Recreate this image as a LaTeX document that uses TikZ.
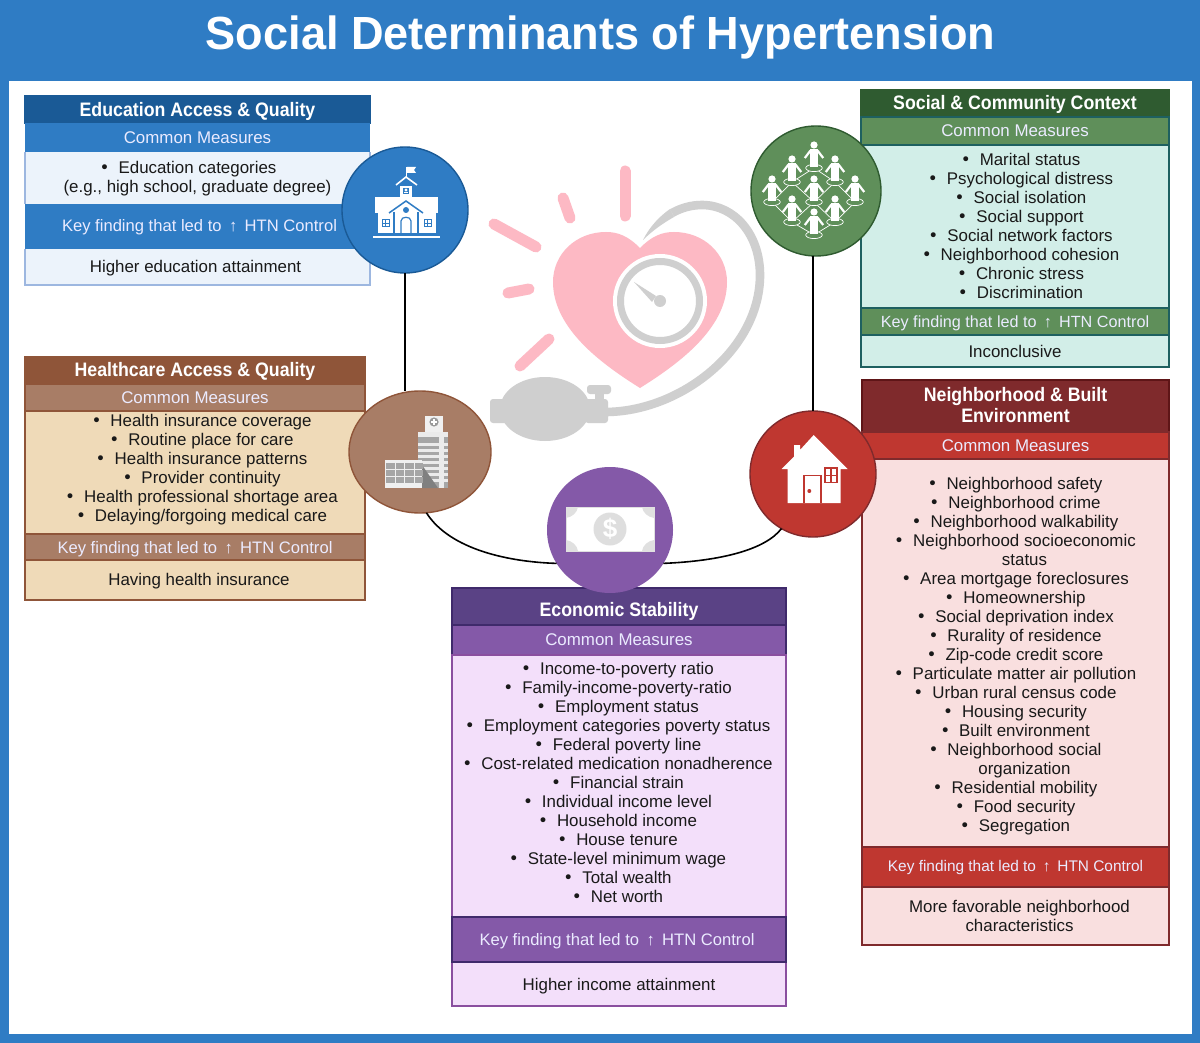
\documentclass[tikz,border=0pt]{standalone}
\usepackage{fontspec}
\setmainfont{Liberation Sans}
\newfontfamily\headfont[FakeStretch=0.91]{Liberation Sans}
\newfontfamily\titlefont[FakeStretch=0.97]{Liberation Sans}
\newfontfamily\bulletfont{DejaVu Sans}
\usetikzlibrary{positioning, shapes.geometric}

\definecolor{frameblue}{HTML}{2F7CC4}
\definecolor{eduDark}{HTML}{1A5A96}
\definecolor{eduLight}{HTML}{ECF3FB}
\definecolor{eduEdge}{HTML}{9DB7E0}
\definecolor{healthDark}{HTML}{8F5539}
\definecolor{healthMid}{HTML}{A87D66}
\definecolor{healthLight}{HTML}{EFDAB8}
\definecolor{socialDark}{HTML}{2F5B30}
\definecolor{socialMid}{HTML}{5F8F5A}
\definecolor{socialLight}{HTML}{D2EEE8}
\definecolor{socialEdge}{HTML}{1E6060}
\definecolor{neighDark}{HTML}{7F2A2C}
\definecolor{neighEdge}{HTML}{5E1517}
\definecolor{neighMid}{HTML}{BF3730}
\definecolor{neighLight}{HTML}{F9DFDF}
\definecolor{econDark}{HTML}{5A4285}
\definecolor{econEdge}{HTML}{3F2A6B}
\definecolor{econMid}{HTML}{8459A8}
\definecolor{econLine}{HTML}{8A4F9F}
\definecolor{econLight}{HTML}{F3DFFA}
\definecolor{heartpink}{HTML}{FDB9C4}
\definecolor{cuffgrey}{HTML}{CFCFCF}

\newcommand{\lineitem}[1]{\leavevmode\llap{{\bulletfont •}\hspace{9pt}}#1}
\newcommand{\nudge}[2]{\raisebox{-#1pt}[\height][\depth]{#2}}
\newcommand{\keyfinding}{Key finding that led to \,↑\, HTN Control}

\tikzset{
  person/.pic={
    \draw[white, fill=socialMid, line width=0.7pt] (0,0) ellipse (8.3 and 3.6);
    \fill[white] (0,-23) circle (3.6);
    \fill[white] (-4.2,-18.5) rectangle (4.2,-8);
    \fill[white] (-3.8,-8) rectangle (-0.4,-0.5);
    \fill[white] (0.4,-8) rectangle (3.8,-0.5);
    \draw[white, line width=2.2pt] (-3.5,-17.5) -- (-9.2,-10);
    \draw[white, line width=2.2pt] (3.5,-17.5) -- (9.2,-10);
  }
}

\begin{document}
\begin{tikzpicture}[x=1pt, y=-1pt,
    rowbox/.style n args={3}{rectangle, inner sep=0pt, outer sep=0pt, line width=1.3pt, fill=#1, draw=#2, minimum height=#3, align=center},
    plainrow/.style n args={2}{rectangle, inner sep=0pt, outer sep=0pt, fill=#1, minimum height=#2, align=center},
    headtext/.style={text=white, font=\fontsize{19.5}{21}\headfont\bfseries},
    subtext/.style={text=white!92!blue, font=\fontsize{16.9}{19}\selectfont},
    keytext/.style={text=white!92!blue, font=\fontsize{#1}{19}\selectfont},
    bodytext/.style={text=black!90, font=\fontsize{16.9}{19}\selectfont},
    listnode/.style={inner sep=0pt, align=center, text=black!90, font=\fontsize{16.9}{19}\selectfont},
    iconnode/.style={circle, inner sep=0pt, outer sep=0pt, line width=1.4pt},
    link/.style={black, line width=1.6pt}]
  \useasboundingbox (0,0) rectangle (1200,1043);
  \fill[frameblue] (0,0) rectangle (1200,1043);
  \fill[white] (9,81) rectangle (1192,1034);
  \node[text=white, font=\fontsize{46.5}{50}\titlefont\bfseries] (title) at (600.5,37) {Social Determinants of Hypertension};

  % education
  \begin{scope}[minimum width=345pt]
    \node[rowbox={eduDark}{eduDark}{27pt}, headtext, anchor=north west] (eduHead) at (25,96) {\nudge{2}{Education Access \& Quality}};
    \node[plainrow={frameblue}{29pt}, subtext] (eduSub) [below=0pt of eduHead] {Common Measures};
    \node[plainrow={eduLight}{52pt}] (eduBody) [below=0pt of eduSub] {};
    \node[plainrow={frameblue}{45pt}, keytext=16.6] (eduKey) [below=0pt of eduBody] {\nudge{1}{\hspace{4pt}\keyfinding}};
    \node[plainrow={eduLight}{36pt}, bodytext] (eduResult) [below=0pt of eduKey] {\nudge{1}{Higher education attainment\hspace{4pt}}};
  \end{scope}
  \draw[eduEdge, line width=1.3pt] (eduBody.north west) -- (eduBody.south west) (eduResult.north west) -- (eduResult.south west) -- (eduResult.south east) -- (eduResult.north east) (eduBody.south east) -- (eduBody.north east);
  \node[listnode] (eduList) at ([yshift=-1pt]eduBody.center) {\lineitem{Education categories}\\(e.g., high school, graduate degree)};

  % healthcare
  \begin{scope}[minimum width=340pt]
    \node[rowbox={healthDark}{healthDark}{27pt}, headtext, anchor=north west] (healthHead) at (25,357) {\nudge{1}{Healthcare Access \& Quality}};
    \node[rowbox={healthMid}{healthDark}{27pt}, subtext] (healthSub) [below=0pt of healthHead] {Common Measures};
    \node[rowbox={healthLight}{healthDark}{123pt}] (healthBody) [below=0pt of healthSub] {};
    \node[rowbox={healthMid}{healthDark}{26pt}, keytext=16.6] (healthKey) [below=0pt of healthBody] {\nudge{2}{\keyfinding}};
    \node[rowbox={healthLight}{healthDark}{40pt}, bodytext] (healthResult) [below=0pt of healthKey] {\nudge{1}{\hspace{8pt}Having health insurance}};
  \end{scope}
  \node[listnode] (healthList) at ([xshift=16pt, yshift=3pt]healthBody.center) {\lineitem{Health insurance coverage}\\\lineitem{Routine place for care}\\\lineitem{Health insurance patterns}\\\lineitem{Provider continuity}\\\lineitem{Health professional shortage area}\\\lineitem{Delaying/forgoing medical care}};

  % social and community
  \begin{scope}[minimum width=308pt]
    \node[rowbox={socialDark}{socialDark}{27pt}, headtext, anchor=north west] (socialHead) at (861,90) {\nudge{1}{Social \& Community Context}};
    \node[rowbox={socialMid}{socialEdge}{28pt}, subtext] (socialSub) [below=0pt of socialHead] {Common Measures};
    \node[rowbox={socialLight}{socialEdge}{163pt}] (socialBody) [below=0pt of socialSub] {};
    \node[rowbox={socialMid}{socialEdge}{27pt}, keytext=16.2] (socialKey) [below=0pt of socialBody] {\nudge{2}{\keyfinding}};
    \node[rowbox={socialLight}{socialEdge}{32pt}, bodytext] (socialResult) [below=0pt of socialKey] {Inconclusive};
  \end{scope}
  \node[listnode] (socialList) at ([xshift=15pt, yshift=1pt]socialBody.center) {\lineitem{Marital status}\\\lineitem{Psychological distress}\\\lineitem{Social isolation}\\\lineitem{Social support}\\\lineitem{Social network factors}\\\lineitem{Neighborhood cohesion}\\\lineitem{Chronic stress}\\\lineitem{Discrimination}};

  % neighborhood
  \begin{scope}[minimum width=307pt]
    \node[rowbox={neighDark}{neighEdge}{52pt}, headtext, anchor=north west] (neighHead) at (862,380) {Neighborhood \& Built\\Environment\rule[-2pt]{0pt}{1pt}};
    \node[rowbox={neighMid}{neighDark}{27pt}, subtext] (neighSub) [below=0pt of neighHead] {Common Measures};
    \node[rowbox={neighLight}{neighDark}{388pt}] (neighBody) [below=0pt of neighSub] {};
    \node[rowbox={neighMid}{neighDark}{40pt}, keytext=15.4] (neighKey) [below=0pt of neighBody] {\nudge{1}{\keyfinding}};
    \node[rowbox={neighLight}{neighDark}{58pt}, bodytext] (neighResult) [below=0pt of neighKey] {\hspace{8pt}More favorable neighborhood\\\hspace{8pt}characteristics};
  \end{scope}
  \node[listnode] (neighList) at ([xshift=9pt, yshift=-3pt]neighBody.center) {\lineitem{Neighborhood safety}\\\lineitem{Neighborhood crime}\\\lineitem{Neighborhood walkability}\\\lineitem{Neighborhood socioeconomic}\\status\\\lineitem{Area mortgage foreclosures}\\\lineitem{Homeownership}\\\lineitem{Social deprivation index}\\\lineitem{Rurality of residence}\\\lineitem{Zip-code credit score}\\\lineitem{Particulate matter air pollution}\\\lineitem{Urban rural census code}\\\lineitem{Housing security}\\\lineitem{Built environment}\\\lineitem{Neighborhood social}\\organization\\\lineitem{Residential mobility}\\\lineitem{Food security}\\\lineitem{Segregation}};

  % economic stability
  \begin{scope}[minimum width=334pt]
    \node[rowbox={econDark}{econEdge}{37pt}, headtext, anchor=north west] (econHead) at (452,588) {\nudge{5}{Economic Stability}};
    \node[rowbox={econMid}{econEdge}{30pt}, subtext] (econSub) [below=0pt of econHead] {Common Measures};
    \node[rowbox={econLight}{econLine}{262pt}] (econBody) [below=0pt of econSub] {};
    \node[rowbox={econLight}{econLine}{44pt}, bodytext, anchor=north] (econResult) at ([yshift=-45pt]econBody.south) {\nudge{2}{Higher income attainment}};
    \node[rowbox={econMid}{econEdge}{45pt}, keytext=16.6] (econKey) [below=0pt of econBody] {\nudge{2}{\hspace{-4pt}\keyfinding}};
  \end{scope}
  \node[listnode] (econList) at ([xshift=8pt, yshift=3.5pt]econBody.center) {\lineitem{Income-to-poverty ratio}\\\lineitem{Family-income-poverty-ratio}\\\lineitem{Employment status}\\\lineitem{Employment categories poverty status}\\\lineitem{Federal poverty line}\\\lineitem{Cost-related medication nonadherence}\\\lineitem{Financial strain}\\\lineitem{Individual income level}\\\lineitem{Household income}\\\lineitem{House tenure}\\\lineitem{State-level minimum wage}\\\lineitem{Total wealth}\\\lineitem{Net worth}};

  % circles
  \node[iconnode, fill=frameblue, draw=eduDark, minimum size=126pt] (eduIcon) at (405,210) {};
  \node[ellipse, inner sep=0pt, outer sep=0pt, line width=1.4pt, fill=healthMid, draw=healthDark, minimum width=142pt, minimum height=122pt] (healthIcon) at (420,452) {};
  \node[iconnode, fill=socialMid, draw=socialDark, minimum size=130pt] (socialIcon) at (816,191) {};
  \node[iconnode, fill=neighMid, draw=neighDark, minimum size=126pt] (neighIcon) at (813,474) {};
  \node[iconnode, fill=econMid, minimum size=126pt] (econIcon) at (610,530) {};

  \draw[link] (eduIcon.south) -- (eduIcon.south |- healthIcon.north);
  \draw[link] (neighIcon.north |- socialIcon.south) -- (neighIcon.north);
  \draw[link] (healthIcon.-84) .. controls (450,550) and (510,562) .. (econIcon.-148);
  \draw[link] (econIcon.-32) .. controls (720,561) and (765,550) .. (neighIcon.-120);

  % heart and cuff
  \fill[heartpink] (640,248) .. controls (628,236) and (618,232) .. (606,232) .. controls (576,232) and (553,254) .. (553,282) .. controls (553,330) and (605,366) .. (640,388) .. controls (675,366) and (727,330) .. (727,282) .. controls (727,254) and (704,232) .. (674,232) .. controls (662,232) and (652,236) .. (640,248);
  \foreach \ax/\ay/\bx/\by in {625/171/625/216, 563/198/570/218, 494/224/536/247, 508/293/529/289, 520/366/549/339}
    \draw[heartpink, line width=11pt, line cap=round] (\ax,\ay) -- (\bx,\by);
  \draw[cuffgrey, line width=8.6pt] (605,412) .. controls (680,412) and (760,350) .. (760,275) .. controls (760,235) and (735,205) .. (702,205) .. controls (691,205) and (681,208) .. (672,213);
  \fill[cuffgrey] (643,240) .. controls (650,226) and (660,216) .. (670,209) -- (674,217) .. controls (665,222) and (653,230) .. (643,240) -- cycle;
  \fill[white] (660,301) circle (47);
  \draw[cuffgrey, line width=7pt] (660,301) circle (39.5);
  \fill[cuffgrey] (634,282) -- (656,296) -- (652,302) -- cycle;
  \fill[cuffgrey] (660,301) circle (6);
  \fill[cuffgrey] (545,409) ellipse (45 and 32);
  \fill[cuffgrey, rounded corners=3pt] (490,399) rectangle (512,423);
  \fill[cuffgrey, rounded corners=3pt] (585,399) rectangle (608,423);
  \fill[cuffgrey] (595,392) rectangle (604,400);
  \fill[cuffgrey, rounded corners=3pt] (587,385) rectangle (611,394);

  % school
  \fill[white] (406,167) rectangle (407,178);
  \fill[white] (407,167) -- (416,167) -- (414,170) -- (416,173) -- (407,173) -- cycle;
  \draw[white, line width=1.6pt] (396,185) -- (406,177) -- (417,185);
  \fill[white] (400,186) rectangle (412,197);
  \fill[frameblue] (403,188) rectangle (409,194);
  \fill[white] (406,190) circle (1.6);
  \fill[white] (403.8,192) rectangle (408.2,193);
  \fill[white] (375,197) rectangle (438,213);
  \fill[white] (378,213) rectangle (436,233);
  \fill[white] (373,236) rectangle (440,238);
  \draw[frameblue, line width=1.5pt] (389,213) -- (406,201) -- (423,213);
  \draw[frameblue, line width=1.5pt] (394,212) -- (394,233);
  \draw[frameblue, line width=1.5pt] (418,212) -- (418,233);
  \fill[frameblue] (406,210) circle (3);
  \draw[frameblue, line width=1.2pt] (401,233) -- (401,221) .. controls (401,216) and (411,216) .. (411,221) -- (411,233);
  \foreach \wx in {382,424} {
    \draw[frameblue, line width=1pt] (\wx,220) rectangle ++(7,7);
    \draw[frameblue, line width=0.7pt] (\wx+3.5,220) -- (\wx+3.5,227) (\wx,223.5) -- (\wx+7,223.5);
  }

  % people network
  \foreach \pname/\px/\py in {a/814/168, b/792/182, c/835/182, d/772/202, e/814/202, f/855/202, g/792/222, h/835/222, i/814/235}
    \coordinate (p\pname) at (\px,\py);
  \foreach \from/\to in {a/b, a/c, b/d, b/e, c/e, c/f, d/g, e/g, e/h, f/h, g/i, h/i}
    \draw[white, line width=0.7pt] (p\from) -- (p\to);
  \foreach \pname in {a,b,c,d,e,f,g,h,i}
    \pic at (p\pname) {person};

  % hospital
  \fill[white!94!black] (425,416) rectangle (443,432);
  \fill[black!40] (434,422) circle (4.6);
  \draw[white, line width=1.2pt] (431,422) -- (437,422) (434,419) -- (434,425);
  \fill[white!92!black] (418,432) rectangle (448,437);
  \fill[black!35] (418,437) rectangle (448,488);
  \foreach \ly in {443,449,455,461,467,473,479}
    \fill[white!92!black] (418,\ly) rectangle (448,\ly+3);
  \fill[white!92!black] (439,437) rectangle (444,488);
  \fill[black!50] (422,488) -- (422,465) -- (438,488) -- cycle;
  \fill[white!94!black] (385,460) rectangle (422,488);
  \foreach \cx in {386,395.5,405,414.5}
    \foreach \cy in {462.5,469.5,476.5}
      \fill[black!35] (\cx,\cy) rectangle +(8.5,6);

  % money
  \fill[white, draw=black!12, line width=1pt] (566,507) rectangle (654,551);
  \fill[black!12] (566,507) -- (578,507) .. controls (577,513) and (572,517) .. (566,518) -- cycle;
  \fill[black!12] (654,507) -- (642,507) .. controls (643,513) and (648,517) .. (654,518) -- cycle;
  \fill[black!12] (566,551) -- (578,551) .. controls (577,545) and (572,541) .. (566,540) -- cycle;
  \fill[black!12] (654,551) -- (642,551) .. controls (643,545) and (648,541) .. (654,540) -- cycle;
  \node[circle, fill=black!13, minimum size=33pt, inner sep=0pt, text=white, font=\fontsize{26}{26}\selectfont\bfseries] (dollar) at (610,529) {\$};

  % house
  \fill[white] (813.7,435) -- (847.5,469) -- (840.7,469) -- (840.7,503) -- (787.7,503) -- (787.7,469) -- (781.5,469) -- (794,456.5) -- (794,445) -- (800,445) -- (800,450) -- cycle;
  \draw[neighMid, line width=1.6pt] (804,503) -- (804,475.5) -- (821,475.5) -- (821,503);
  \fill[neighMid] (809.3,491) circle (2);
  \draw[neighMid, line width=1.4pt] (824.8,468) rectangle (837,482.5);
  \draw[neighMid, line width=1.2pt] (830.9,468) -- (830.9,482.5) (824.8,475.2) -- (837,475.2);
\end{tikzpicture}
\end{document}
